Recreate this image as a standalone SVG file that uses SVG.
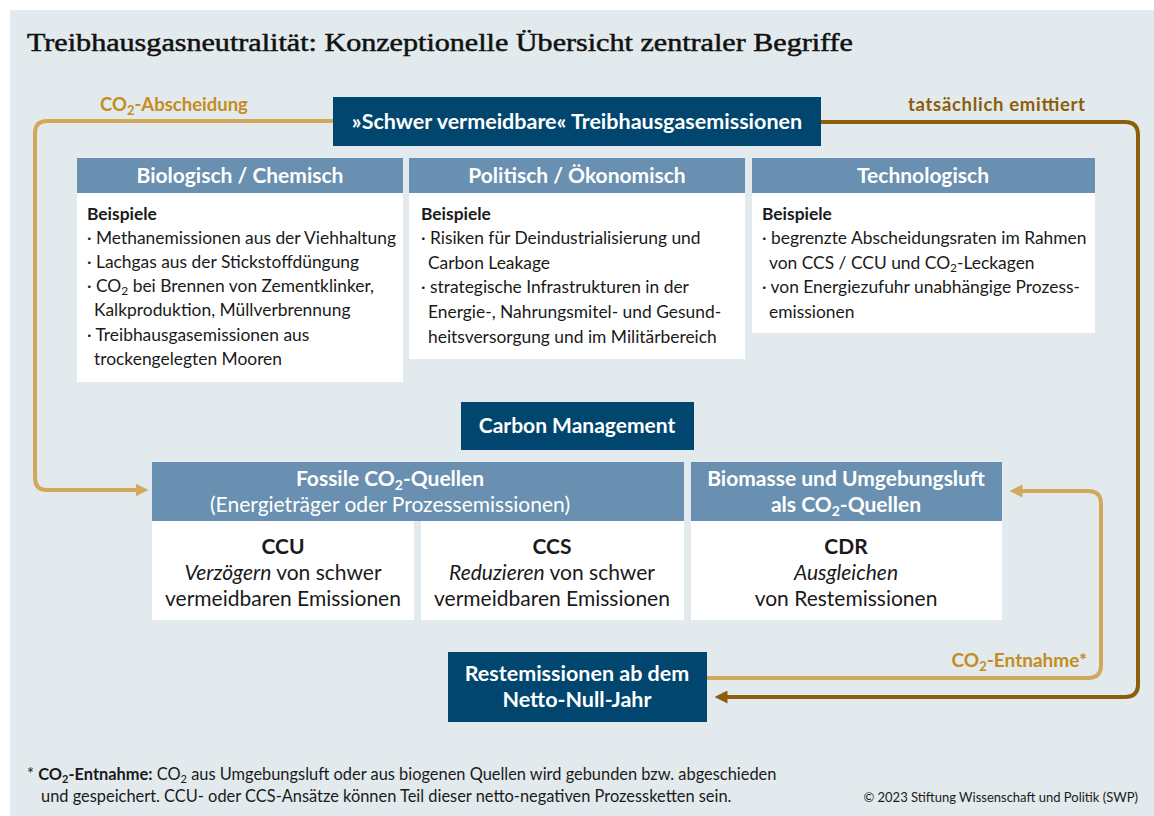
<svg xmlns="http://www.w3.org/2000/svg" width="1154" height="816" viewBox="0 0 1154 816">
<style>
.bg{fill:#e2eaed}
.dark{fill:#00466f}
.hdr{fill:#6990b0}
.body{fill:#ffffff}
.wb{font-family:"Lato","Noto Sans",sans-serif;font-weight:700;fill:#ffffff}
.wr{font-family:"Lato","Noto Sans",sans-serif;font-weight:400;fill:#ffffff}
.bt{font-family:"Lato","Noto Sans",sans-serif;font-size:17.4px;fill:#1a1a1a}
.bb{font-weight:700}
.ct{font-family:"Lato","Noto Sans",sans-serif;font-size:21px;fill:#1a1a1a;text-anchor:middle}
.gold{stroke:#d2a95c;stroke-width:4;fill:none}
.brown{stroke:#8c5e0a;stroke-width:4;fill:none}
.gtxt{font-family:"Lato","Noto Sans",sans-serif;font-weight:700;font-size:18.5px;fill:#c58c20}
.btxt{font-family:"Lato","Noto Sans",sans-serif;font-weight:700;font-size:18.5px;fill:#8c5e0a}
.fn{font-family:"Lato","Noto Sans",sans-serif;font-size:16.4px;fill:#1a1a1a}
.cp{font-family:"Lato","Noto Sans",sans-serif;font-size:13px;fill:#1a1a1a}
</style>
<defs>
<marker id="ag" viewBox="0 0 12 12" refX="6" refY="6" markerWidth="13" markerHeight="13" orient="auto" markerUnits="userSpaceOnUse"><path d="M0,0 L12,6 L0,12 z" fill="#d2a95c"/></marker>
<marker id="ab" viewBox="0 0 12 12" refX="6" refY="6" markerWidth="13" markerHeight="13" orient="auto" markerUnits="userSpaceOnUse"><path d="M0,0 L12,6 L0,12 z" fill="#8c5e0a"/></marker>
</defs>
<rect class="bg" x="10" y="10" width="1144" height="806"/>
<text x="27" y="51" font-family="Liberation Serif, serif" font-weight="400" font-size="25" fill="#111" stroke="#111" stroke-width="0.5" textLength="826" lengthAdjust="spacingAndGlyphs">Treibhausgasneutralität: Konzeptionelle Übersicht zentraler Begriffe</text>

<g id="connectors">
<path class="gold" d="M333,121 H47 Q35,121 35,133 V478 Q35,490 47,490 H142" marker-end="url(#ag)"/>
<path class="brown" d="M821,122 H1125 Q1138,122 1138,135 V684 Q1138,697 1125,697 H721" marker-end="url(#ab)"/>
<path class="gold" d="M707,678 H1088 Q1101,678 1101,665 V504 Q1101,491 1088,491 H1016" marker-end="url(#ag)"/>
<text class="gtxt" x="100" y="111">CO<tspan font-size="13" dy="4">2</tspan><tspan dy="-4">-Abscheidung</tspan></text>
<text class="btxt" x="1085" y="111" text-anchor="end" textLength="177">tatsächlich emittiert</text>
<text class="gtxt" x="1087" y="667" text-anchor="end" style="font-size:19px">CO<tspan font-size="13" dy="4">2</tspan><tspan dy="-4">-Entnahme*</tspan></text>
</g>

<g id="top">
<rect class="dark" x="333" y="97" width="488" height="49"/>
<text class="wb" x="577" y="129" font-size="21.5" text-anchor="middle">»Schwer vermeidbare« Treibhausgasemissionen</text>
</g>

<g id="bio">
<rect class="hdr" x="77" y="158" width="326" height="35"/>
<rect class="body" x="77" y="193" width="326" height="189"/>
<text class="wb" x="240" y="183" font-size="21" text-anchor="middle">Biologisch / Chemisch</text>
<text class="bt"><tspan x="87" y="220" class="bb">Beispiele</tspan><tspan x="87" y="244">· Methanemissionen aus der Viehhaltung</tspan><tspan x="87" y="268">· Lachgas aus der Stickstoffdüngung</tspan><tspan x="87" y="292">· CO</tspan><tspan font-size="12" dy="3">2</tspan><tspan dy="-3"> bei Brennen von Zementklinker,</tspan><tspan x="94" y="316">Kalkproduktion, Müllverbrennung</tspan><tspan x="87" y="341">· Treibhausgasemissionen aus</tspan><tspan x="94" y="365">trockengelegten Mooren</tspan></text>
</g>

<g id="pol">
<rect class="hdr" x="409" y="158" width="336" height="35"/>
<rect class="body" x="409" y="193" width="336" height="166"/>
<text class="wb" x="577" y="183" font-size="21" text-anchor="middle">Politisch / Ökonomisch</text>
<text class="bt"><tspan x="421" y="220" class="bb">Beispiele</tspan><tspan x="421" y="244">· Risiken für Deindustrialisierung und</tspan><tspan x="428" y="269">Carbon Leakage</tspan><tspan x="421" y="293">· strategische Infrastrukturen in der</tspan><tspan x="428" y="318">Energie-, Nahrungsmitel- und Gesund-</tspan><tspan x="428" y="343">heitsversorgung und im Militärbereich</tspan></text>
</g>

<g id="tech">
<rect class="hdr" x="752" y="158" width="343" height="35"/>
<rect class="body" x="752" y="193" width="343" height="140"/>
<text class="wb" x="923" y="183" font-size="21" text-anchor="middle">Technologisch</text>
<text class="bt"><tspan x="762" y="220" class="bb">Beispiele</tspan><tspan x="762" y="244">· begrenzte Abscheidungsraten im Rahmen</tspan><tspan x="769" y="269">von CCS / CCU und CO</tspan><tspan font-size="12" dy="3">2</tspan><tspan dy="-3">-Leckagen</tspan><tspan x="762" y="293">· von Energiezufuhr unabhängige Prozess-</tspan><tspan x="769" y="318">emissionen</tspan></text>
</g>

<g id="cm">
<rect class="dark" x="461" y="402" width="233" height="48"/>
<text class="wb" x="577" y="433" font-size="21" text-anchor="middle">Carbon Management</text>
</g>

<g id="fossil">
<rect class="hdr" x="152" y="462" width="532" height="59"/>
<text class="wb" x="390" y="486" font-size="21" text-anchor="middle">Fossile CO<tspan font-size="14" dy="4">2</tspan><tspan dy="-4">-Quellen</tspan></text>
<text class="wr" x="390" y="512" font-size="21" text-anchor="middle">(Energieträger oder Prozessemissionen)</text>
</g>

<g id="ccu">
<rect class="body" x="152" y="521" width="262" height="99"/>
<text class="ct"><tspan x="283" y="554" font-weight="700">CCU</tspan><tspan x="283" y="580"><tspan font-style="italic">Verzögern</tspan> von schwer</tspan><tspan x="283" y="606">vermeidbaren Emissionen</tspan></text>
</g>

<g id="ccs">
<rect class="body" x="421" y="521" width="263" height="99"/>
<text class="ct"><tspan x="552" y="554" font-weight="700">CCS</tspan><tspan x="552" y="580"><tspan font-style="italic">Reduzieren</tspan> von schwer</tspan><tspan x="552" y="606">vermeidbaren Emissionen</tspan></text>
</g>

<g id="bio-src">
<rect class="hdr" x="691" y="462" width="311" height="59"/>
<text class="wb" x="846" y="486" font-size="21" text-anchor="middle">Biomasse und Umgebungsluft</text>
<text class="wb" x="846" y="512" font-size="21" text-anchor="middle">als CO<tspan font-size="14" dy="4">2</tspan><tspan dy="-4">-Quellen</tspan></text>
</g>

<g id="cdr">
<rect class="body" x="691" y="521" width="311" height="99"/>
<text class="ct"><tspan x="846" y="554" font-weight="700">CDR</tspan><tspan x="846" y="580" font-style="italic">Ausgleichen</tspan><tspan x="846" y="606">von Restemissionen</tspan></text>
</g>

<g id="rest">
<rect class="dark" x="448" y="652" width="259" height="70"/>
<text class="wb" x="577" y="681" font-size="21.5" text-anchor="middle">Restemissionen ab dem</text>
<text class="wb" x="577" y="707" font-size="21.5" text-anchor="middle">Netto-Null-Jahr</text>
</g>

<g id="footnote">
<text class="fn" x="27" y="780">* <tspan font-weight="700">CO<tspan font-size="11" dy="3">2</tspan><tspan dy="-3">-Entnahme:</tspan></tspan> CO<tspan font-size="11" dy="3">2</tspan><tspan dy="-3"> aus Umgebungsluft oder aus biogenen Quellen wird gebunden bzw. abgeschieden</tspan></text>
<text class="fn" x="41" y="802">und gespeichert. CCU- oder CCS-Ansätze können Teil dieser netto-negativen Prozessketten sein.</text>
<text class="cp" x="1138" y="802" text-anchor="end">© 2023 Stiftung Wissenschaft und Politik (SWP)</text>
</g>
</svg>
